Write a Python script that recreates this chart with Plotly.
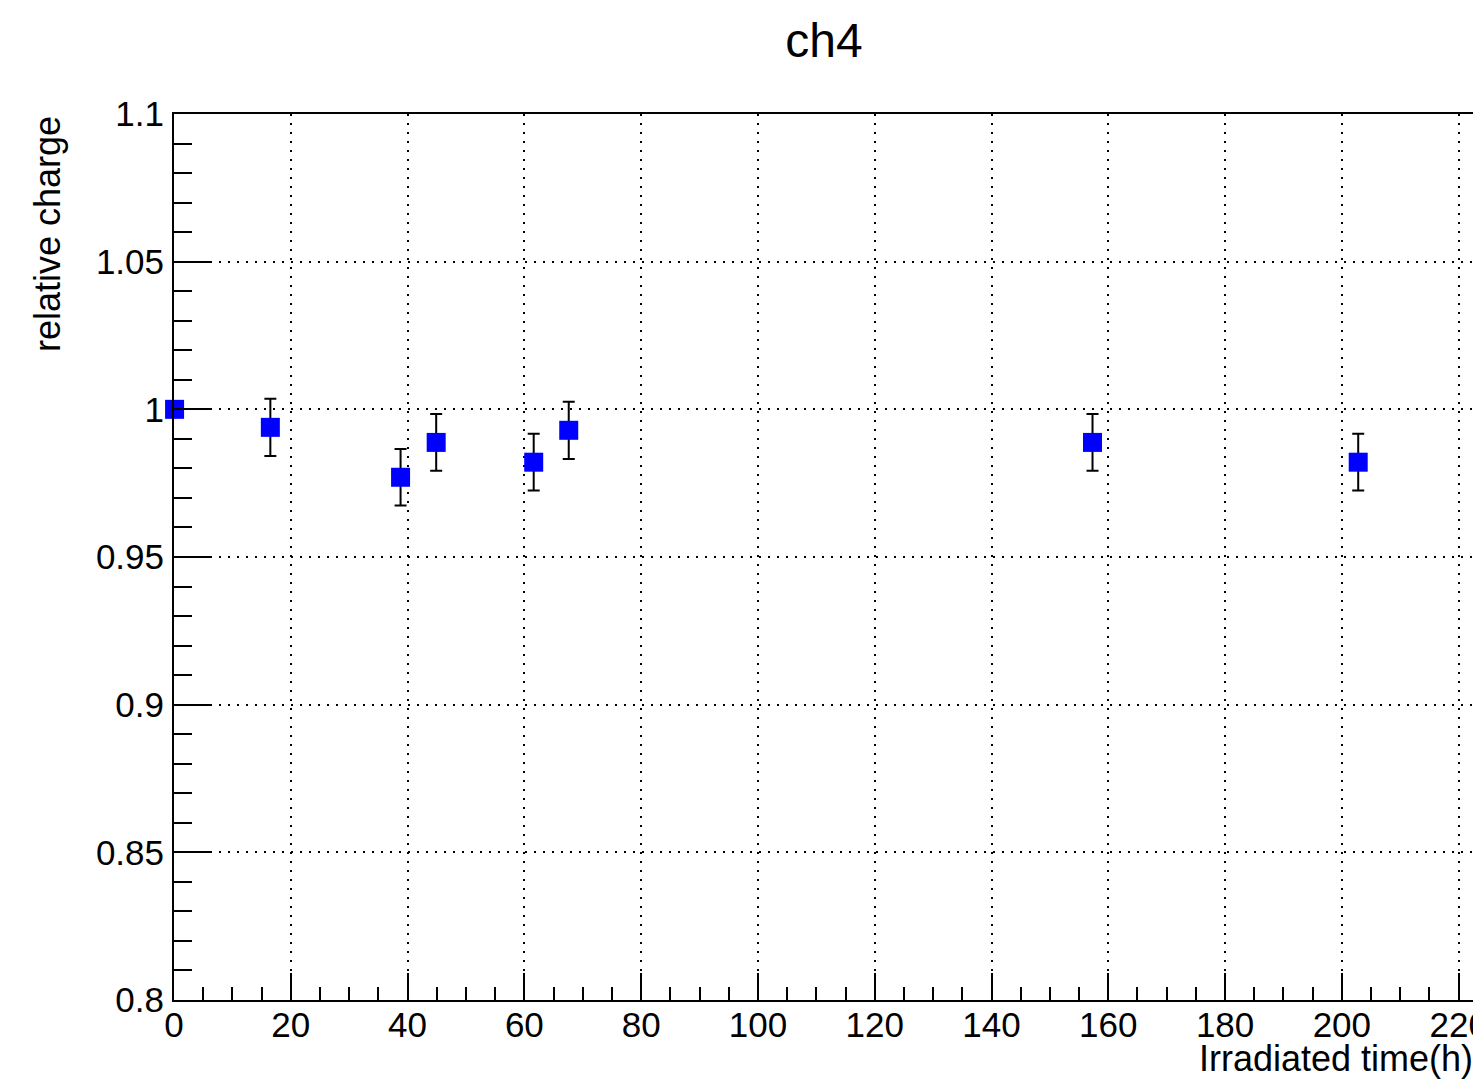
import plotly.graph_objects as go

# Data
time_h = [0.1, 16.5, 38.8, 44.9, 61.6, 67.6, 157.3, 202.8]
rel_charge = [1.0, 0.9939, 0.9770, 0.9888, 0.9821, 0.9929, 0.9888, 0.9821]
rel_err = [0.0, 0.0097, 0.0096, 0.0096, 0.0096, 0.0097, 0.0096, 0.0096]

x_ticks = [0, 20, 40, 60, 80, 100, 120, 140, 160, 180, 200, 220]
y_ticks = [0.8, 0.85, 0.9, 0.95, 1.0, 1.05, 1.1]
y_tick_text = ["0.8", "0.85", "0.9", "0.95", "1", "1.05", "1.1"]

FONT = "Liberation Sans, Arial, Helvetica, sans-serif"

W, H = 1473, 1071  # page has an 8px body margin
fig = go.Figure()
fig.add_trace(go.Scatter(
    x=time_h, y=rel_charge, mode="markers",
    marker=dict(symbol="square", size=19, color="#0000ff", line=dict(width=0)),
    error_y=dict(type="data", array=rel_err, visible=True, color="black", thickness=2, width=6),
    cliponaxis=False,
))

fig.update_layout(
    width=W, height=H,
    margin=dict(l=166, r=6, t=106, b=79, autoexpand=False),
    paper_bgcolor="white", plot_bgcolor="white",
    showlegend=False,
    font=dict(family=FONT, color="black", size=35),
    title=dict(text="ch4", x=816 / W, xanchor="center", y=1 - 32 / H, yanchor="middle",
               font=dict(size=48, family=FONT)),
)

fig.update_xaxes(
    range=[0, 222.8], tickvals=x_ticks, ticktext=[str(v) for v in x_ticks],
    showline=True, linecolor="black", linewidth=2, mirror=True,
    ticks="inside", ticklen=27, tickwidth=2, tickcolor="black",
    minor=dict(dtick=5, tick0=0, ticks="inside", ticklen=13, tickwidth=2, tickcolor="black", showgrid=False),
    showgrid=True, gridcolor="black", gridwidth=2, griddash="2px,7px",
    zeroline=False, tickfont=dict(size=35), ticklabelstandoff=-7,
    automargin=False, ticklabeloverflow="allow",
)
fig.update_yaxes(
    range=[0.8, 1.1], tickvals=y_ticks, ticktext=y_tick_text,
    showline=True, linecolor="black", linewidth=2, mirror=True,
    ticks="inside", ticklen=38, tickwidth=2, tickcolor="black",
    minor=dict(dtick=0.01, tick0=0.8, ticks="inside", ticklen=18, tickwidth=2, tickcolor="black", showgrid=False),
    showgrid=True, gridcolor="black", gridwidth=2, griddash="2px,7px",
    zeroline=False, tickfont=dict(size=35), ticklabelstandoff=1,
    automargin=False, ticklabeloverflow="allow",
)

fig.add_annotation(text="Irradiated time(h)", xref="paper", yref="paper",
                   x=1.0, y=0, xanchor="right", yanchor="middle", yshift=-58,
                   showarrow=False, font=dict(size=36, family=FONT))
fig.add_annotation(text="relative charge", xref="paper", yref="paper",
                   x=0, y=1, xanchor="center", yanchor="top", xshift=-127, yshift=0,
                   textangle=-90, showarrow=False, font=dict(size=36, family=FONT))

fig.write_html("out.html")
